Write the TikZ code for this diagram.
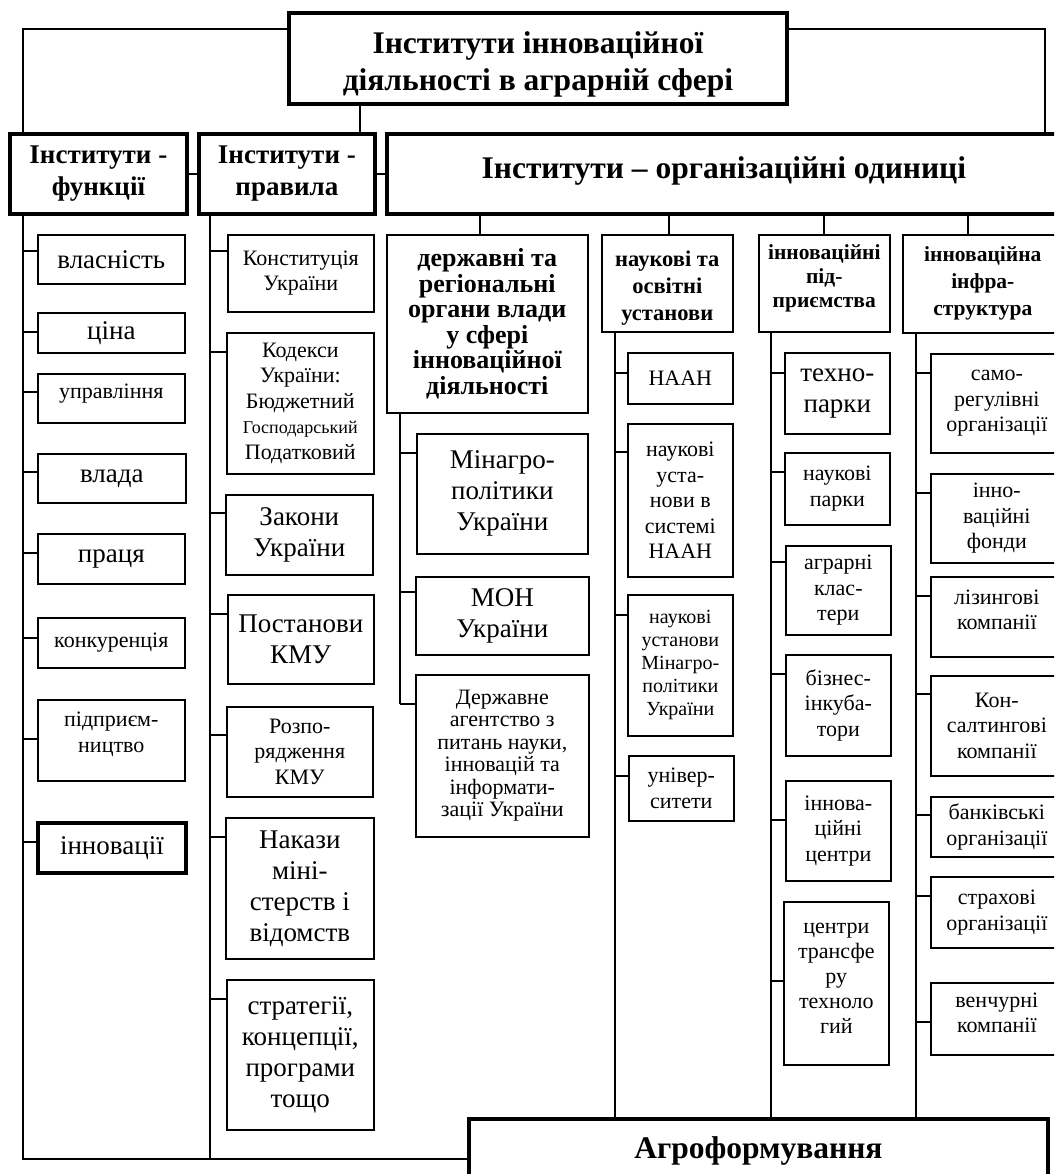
\documentclass[tikz,border=0pt]{standalone}
\usepackage{fontspec}
\setmainfont{Liberation Serif}

\newcommand{\fsmall}{\fontsize{22}{25.5}\selectfont}
\newcommand{\fbig}{\fontsize{27}{31}\selectfont}
\newcommand{\fhead}{\bfseries\fontsize{31.5}{37}\selectfont}
% struts to move text up (depth) or down (height) inside a box
\newcommand{\lift}[1]{\rule[-#1pt]{0pt}{#1pt}}
\newcommand{\sink}[1]{\rule{0pt}{#1pt}}

\begin{document}
\begin{tikzpicture}[x=1pt, y=-1pt,
    cellnode/.style={rectangle, draw, line width=1.6pt, align=center, inner sep=0pt, anchor=north west},
    boldnode/.style={cellnode, line width=3.8pt},
    dims/.style 2 args={minimum width=#1pt, minimum height=#2pt},
    smalltext/.style={font=\fsmall},
    bigtext/.style={font=\fbig},
    link/.style={line width=1.6pt}]

    \useasboundingbox (0,0) rectangle (1054,1174);
    \clip (0,0) rectangle (1054,1174);

    % top level
    \node[boldnode, dims={498}{91}, font=\fhead] (top) at (287,11) {\sink{33}Інститути інноваційної\\діяльності в аграрній сфері};
    \node[boldnode, dims={177}{80}, font=\bfseries\fontsize{27}{32}\selectfont] (func) at (8,132) {Інститути -\\функції};
    \node[boldnode, dims={176}{80}, font=\bfseries\fontsize{27}{32}\selectfont] (rules) at (197,132) {Інститути -\\правила};
    \node[boldnode, dims={674}{80}, font=\fhead] (org) at (385,132) {\raisebox{12pt}{Інститути – організаційні одиниці}};

    % institutions - functions
    \node[cellnode, dims={147}{49}, bigtext] (vlasn) at (37,234) {власність};
    \node[cellnode, dims={147}{40}, bigtext] (cina) at (37,312) {ціна};
    \node[cellnode, dims={147}{49}, smalltext] (upr) at (37,373) {управління\lift{15}};
    \node[cellnode, dims={148}{49}, bigtext] (vlada) at (37,453) {влада};
    \node[cellnode, dims={147}{50}, bigtext] (pracia) at (37,533) {праця};
    \node[cellnode, dims={147}{50}, smalltext] (konk) at (37,617) {конкуренція};
    \node[cellnode, dims={147}{81}, smalltext] (pidpr) at (37,699) {підприєм-\\ництво\lift{16}};
    \node[boldnode, dims={148}{50}, bigtext] (innov) at (36,821) {інновації};

    % institutions - rules
    \node[cellnode, dims={146}{77}, smalltext] (konst) at (227,234) {Конституція\\України};
    \node[cellnode, dims={147}{141}, smalltext] (kodeks) at (226,332) {Кодекси\\України:\\Бюджетний\\{\fontsize{18}{21}\selectfont Господарський}\\Податковий};
    \node[cellnode, dims={147}{80}, bigtext] (zakony) at (225,494) {Закони\\України};
    \node[cellnode, dims={146}{89}, bigtext] (postan) at (227,594) {Постанови\\КМУ};
    \node[cellnode, dims={146}{90}, smalltext] (rozp) at (226,706) {Розпо-\\рядження\\КМУ};
    \node[cellnode, dims={148}{141}, bigtext] (nakazy) at (225,817) {Накази\\міні-\\стерств і\\відомств};
    \node[cellnode, dims={147}{150}, bigtext] (strat) at (226,979) {стратегії,\\концепції,\\програми\\тощо};

    % organisational units: groups
    \node[cellnode, dims={201}{178}, font=\bfseries\fontsize{26}{25.5}\selectfont] (derzh) at (386,234) {державні та\\регіональні\\органи влади\\у сфері\\інноваційної\\діяльності};
    \node[cellnode, dims={131}{97}, font=\bfseries\fontsize{22.5}{27}\selectfont] (nauk) at (601,234) {\sink{26}наукові та\\освітні\\установи};
    \node[cellnode, dims={131}{97}, font=\bfseries\fontsize{21.5}{24}\selectfont] (pidprh) at (758,234) {інноваційні\\під-\\приємства\lift{15}};
    \node[cellnode, dims={160}{98}, font=\bfseries\fontsize{21.5}{27}\selectfont] (infra) at (902,234) {інноваційна\\інфра-\\структура};

    % state bodies
    \node[cellnode, dims={171}{120}, bigtext] (minagro) at (416,433) {Мінагро-\\політики\\України};
    \node[cellnode, dims={173}{78}, bigtext] (mon) at (415,576) {МОН\\України};
    \node[cellnode, dims={173}{162}, font=\fontsize{22}{22.5}\selectfont] (agency) at (415,674) {Державне\\агентство з\\питань науки,\\інновацій та\\інформати-\\зації України};

    % science and education
    \node[cellnode, dims={105}{51}, smalltext] (naan) at (627,352) {НААН};
    \node[cellnode, dims={105}{153}, smalltext] (naukust) at (627,423) {наукові\\уста-\\нови в\\системі\\НААН};
    \node[cellnode, dims={105}{141}, font=\fontsize{20}{23}\selectfont] (naukmin) at (627,594) {наукові\\установи\\Мінагро-\\політики\\України};
    \node[cellnode, dims={105}{65}, smalltext] (univ) at (628,755) {універ-\\ситети};

    % innovative enterprises
    \node[cellnode, dims={105}{81}, bigtext] (tekhno) at (784,352) {техно-\\парки};
    \node[cellnode, dims={105}{72}, smalltext] (naukpark) at (784,452) {наукові\\парки};
    \node[cellnode, dims={105}{89}, smalltext] (klast) at (785,545) {аграрні\\клас-\\тери};
    \node[cellnode, dims={105}{101}, smalltext] (biznes) at (785,654) {бізнес-\\інкуба-\\тори};
    \node[cellnode, dims={105}{100}, smalltext] (inncentr) at (785,780) {іннова-\\ційні\\центри};
    \node[cellnode, dims={105}{163}, font=\fontsize{22}{24.8}\selectfont] (transf) at (783,901) {центри\\трансфе\\ру\\техноло\\гий\lift{10}};

    % infrastructure
    \node[cellnode, dims={132}{99}, smalltext] (samoreg) at (930,353) {само-\\регулівні\\організації};
    \node[cellnode, dims={132}{89}, smalltext] (fondy) at (930,473) {інно-\\ваційні\\фонди};
    \node[cellnode, dims={132}{80}, smalltext] (lizyng) at (930,576) {лізингові\\компанії\lift{14}};
    \node[cellnode, dims={132}{100}, smalltext] (konsalt) at (930,675) {Кон-\\салтингові\\компанії};
    \node[cellnode, dims={132}{60}, smalltext] (bank) at (930,796) {банківські\\організації};
    \node[cellnode, dims={132}{71}, smalltext] (strakh) at (930,876) {страхові\\організації};
    \node[cellnode, dims={132}{72}, smalltext] (venchur) at (930,982) {венчурні\\компанії\lift{12}};

    \node[boldnode, dims={579}{64}, font=\fhead] (agro) at (467,1117) {Агроформування};

    % spines
    \coordinate (sF) at (23,212);
    \coordinate (sR) at (210,212);
    \coordinate (sD) at (400,412);
    \coordinate (sN) at (615,331);
    \coordinate (sP) at (771,331);
    \coordinate (sI) at (916,332);
    \coordinate (bot) at (0,1159);
    \coordinate (gD) at (480,212);
    \coordinate (gN) at (669,212);
    \coordinate (gP) at (824,212);
    \coordinate (gI) at (968,212);

    \draw[link] ([yshift=-18pt]top.north west) -| (sF |- func.north);
    \draw[link] ([yshift=-18pt]top.north east) -| ([xshift=660pt]org.north west);
    \draw[link] ([xshift=73pt]top.south west) -- ([xshift=163pt]rules.north west);
    \draw[link] (func) -- (rules);
    \draw[link] (rules) -- (org);

    \draw[link] (gD) -- (gD |- derzh.north);
    \draw[link] (gN) -- (gN |- nauk.north);
    \draw[link] (gP) -- (gP |- pidprh.north);
    \draw[link] (gI) -- (gI |- infra.north);

    \foreach \n/\d in {vlasn/17, cina/20, upr/19, vlada/19, pracia/20, konk/21, pidpr/40, innov/21} {
        \coordinate (\n-s) at ([yshift=-\d pt]\n.north west);
        \draw[link] (\n-s) -- (\n-s -| sF);
    }
    \foreach \n/\d in {konst/17, kodeks/20, zakony/19, postan/20, rozp/29, nakazy/20, strat/20} {
        \coordinate (\n-s) at ([yshift=-\d pt]\n.north west);
        \draw[link] (\n-s) -- (\n-s -| sR);
    }
    \foreach \n/\d in {minagro/20, mon/16, agency/30} {
        \coordinate (\n-s) at ([yshift=-\d pt]\n.north west);
        \draw[link] (\n-s) -- (\n-s -| sD);
    }
    \foreach \n/\d in {naan/21, naukust/29, naukmin/21, univ/21} {
        \coordinate (\n-s) at ([yshift=-\d pt]\n.north west);
        \draw[link] (\n-s) -- (\n-s -| sN);
    }
    \foreach \n/\d in {tekhno/21, naukpark/20, klast/17, biznes/20, inncentr/40, transf/80} {
        \coordinate (\n-s) at ([yshift=-\d pt]\n.north west);
        \draw[link] (\n-s) -- (\n-s -| sP);
    }
    \foreach \n/\d in {samoreg/20, fondy/20, lizyng/20, konsalt/19, bank/19, strakh/20, venchur/40} {
        \coordinate (\n-s) at ([yshift=-\d pt]\n.north west);
        \draw[link] (\n-s) -- (\n-s -| sI);
    }

    \draw[link] (sF) |- (bot -| agro.west);
    \draw[link] (sR) -- (sR |- bot);
    \draw[link] (sD) -- (sD |- agency-s);
    \draw[link] (sN) -- (sN |- agro.north);
    \draw[link] (sP) -- (sP |- agro.north);
    \draw[link] (sI) -- (sI |- agro.north);

\end{tikzpicture}
\end{document}
